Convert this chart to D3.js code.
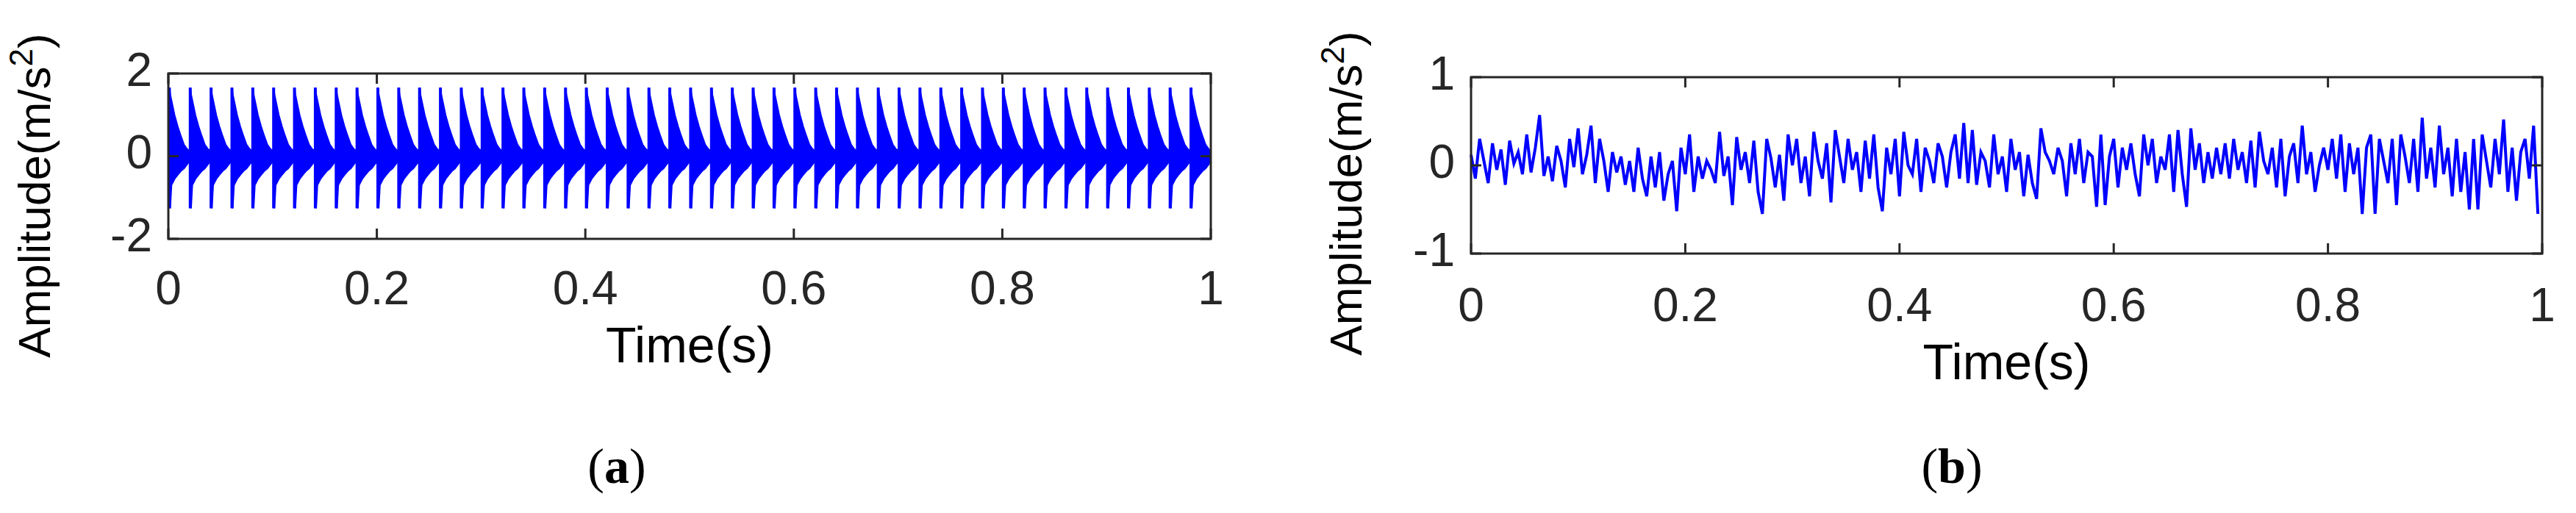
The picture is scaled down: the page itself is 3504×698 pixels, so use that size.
<!DOCTYPE html>
<html><head><meta charset="utf-8">
<script src="https://cdn.jsdelivr.net/npm/d3@7"></script>
<style>body{margin:0;background:#fff}svg{display:block}</style>
</head><body>
<svg id="c" width="3504" height="698"></svg>
<script>
// Panel (a): impulse train (fault signal)
const impulseTimes = [0.001,0.021,0.041,0.061,0.081,0.101,0.121,0.141,0.161,0.181,0.201,0.221,0.241,0.261,0.281,0.301,0.321,0.341,0.361,0.381,0.401,0.421,0.441,0.461,0.481,0.501,0.521,0.541,0.561,0.581,0.601,0.621,0.641,0.661,0.681,0.701,0.721,0.741,0.761,0.781,0.801,0.821,0.841,0.861,0.881,0.901,0.921,0.941,0.961,0.981];
const impulsePeriod = 0.02;
// envelope shape within one impulse (fraction of period, amplitude)
const envFrac  = [0, 0.04, 0.1, 0.25, 0.4, 0.55, 0.7, 0.85, 1.0];
const envUpper = [1.66, 1.5, 1.35, 0.99, 0.72, 0.49, 0.28, 0.17, 0.12];
const envLower = [-0.2, -1.26, -0.7, -0.55, -0.45, -0.36, -0.3, -0.2, -0.1];
const xTicksA = [0, 0.2, 0.4, 0.6, 0.8, 1];
const yTicksA = [-2, 0, 2];
// Panel (b): normal signal samples, dt = 0.004 s
const noiseDt = 0.004;
const noiseValues = [
0.12,-0.15,0.3,0.05,-0.2,0.25,-0.05,0.18,-0.22,0.28,0.02,0.15,-0.1,0.35,-0.08,0.2,0.57,-0.12,0.1,-0.18,0.22,0.05,-0.25,0.3,-0.02,
0.42,-0.1,0.12,0.45,-0.2,0.3,0.05,-0.3,0.15,-0.08,0.1,-0.22,0.05,-0.3,0.2,-0.15,-0.35,0.1,-0.25,0.15,-0.4,-0.1,0.05,-0.52,0.2,
-0.1,0.35,-0.3,0.1,-0.15,0.05,-0.05,-0.2,0.38,-0.12,0.1,-0.45,0.32,-0.05,0.15,-0.2,0.28,-0.3,-0.55,0.3,0.08,-0.25,0.12,-0.4,0.35,
0.0,0.3,-0.2,0.1,-0.35,0.38,0.05,-0.15,0.25,-0.42,0.4,0.1,-0.2,0.3,-0.05,0.15,-0.3,0.28,-0.15,0.35,-0.25,-0.52,0.2,-0.1,0.3,
-0.35,0.38,0.0,-0.1,0.3,-0.3,0.2,0.05,-0.2,0.25,0.1,-0.25,0.15,0.35,-0.15,0.48,-0.2,0.4,-0.22,0.15,0.05,-0.25,0.35,-0.1,0.1,
-0.3,0.3,-0.05,0.15,-0.35,0.12,-0.2,-0.38,0.42,0.15,0.05,-0.1,0.2,0.05,-0.35,0.25,-0.1,0.3,-0.2,0.15,0.1,-0.47,0.35,-0.45,0.1,
0.3,-0.25,0.2,-0.05,0.25,-0.1,-0.35,0.35,0.0,0.3,-0.2,0.1,-0.05,0.35,-0.3,0.4,-0.1,-0.47,0.42,-0.05,0.25,-0.2,0.15,-0.15,0.2,
-0.1,0.25,-0.15,0.3,-0.05,0.15,-0.2,0.28,-0.25,0.38,0.05,-0.1,0.2,-0.25,0.3,-0.35,0.1,0.25,-0.2,0.45,-0.1,0.15,-0.3,0.0,0.2,
-0.05,0.3,-0.15,0.35,-0.3,0.25,-0.1,0.2,-0.55,0.2,0.35,-0.55,0.3,0.05,-0.2,0.3,-0.45,0.35,0.1,-0.2,0.3,-0.3,0.54,-0.15,0.2,
-0.25,0.45,-0.1,0.2,-0.35,0.3,-0.3,0.15,-0.5,0.3,-0.5,0.35,0.05,-0.25,0.3,-0.1,0.52,-0.3,0.2,-0.4,0.15,0.3,-0.15,0.45,-0.55];
const xTicksB = [0, 0.2, 0.4, 0.6, 0.8, 1];
const yTicksB = [-1, 0, 1];

const svg = d3.select("#c");
const AX = "#262626", FONT = "'Liberation Sans', Arial, sans-serif";

function frame(g, x, y, xt, yt, tickFmt, xLabY, labX, labY) {
  const [x0, x1] = x.range(), [y1, y0] = y.range();
  const tl = 14;
  g.append("rect").attr("x", x0).attr("y", y0).attr("width", x1 - x0).attr("height", y1 - y0)
    .attr("fill", "none").attr("stroke", AX).attr("stroke-width", 3);
  xt.forEach(t => {
    g.append("line").attr("x1", x(t)).attr("x2", x(t)).attr("y1", y1).attr("y2", y1 - tl).attr("stroke", AX).attr("stroke-width", 3);
    g.append("line").attr("x1", x(t)).attr("x2", x(t)).attr("y1", y0).attr("y2", y0 + tl).attr("stroke", AX).attr("stroke-width", 3);
    g.append("text").attr("x", x(t)).attr("y", xLabY).attr("text-anchor", "middle").attr("dominant-baseline", "middle")
      .attr("font-size", 64).attr("font-family", FONT).attr("fill", AX).text(tickFmt(t));
  });
  yt.forEach(t => {
    g.append("line").attr("x1", x0).attr("x2", x0 + tl).attr("y1", y(t)).attr("y2", y(t)).attr("stroke", AX).attr("stroke-width", 3);
    g.append("line").attr("x1", x1).attr("x2", x1 - tl).attr("y1", y(t)).attr("y2", y(t)).attr("stroke", AX).attr("stroke-width", 3);
    g.append("text").attr("x", x0 - 22).attr("y", y(t)).attr("text-anchor", "end").attr("dominant-baseline", "middle")
      .attr("font-size", 64).attr("font-family", FONT).attr("fill", AX).text(t);
  });
  g.append("text").attr("x", (x0 + x1) / 2).attr("y", xLabY + 78).attr("text-anchor", "middle").attr("dominant-baseline", "middle")
    .attr("font-size", 68).attr("font-family", FONT).attr("fill", "#000").text("Time(s)");
  const yl = g.append("text").attr("transform", `translate(${labX},${labY}) rotate(-90)`).attr("text-anchor", "middle")
    .attr("font-size", 62).attr("font-family", FONT).attr("fill", "#000");
  yl.append("tspan").text("Amplitude(m/s");
  yl.append("tspan").attr("dy", -24).attr("font-size", 44).text("2");
  yl.append("tspan").attr("dy", 24).text(")");
}
const fmt = d => d === 0 ? "0" : d === 1 ? "1" : String(d);

// Panel (a)
const xa = d3.scaleLinear().domain([0, 1]).range([229, 1647]);
const ya = d3.scaleLinear().domain([-2, 2]).range([325, 100]);
const ga = svg.append("g");
const area = d3.area().x(d => d[0]).y0(d => d[2]).y1(d => d[1]);
impulseTimes.forEach(t0 => {
  const pts = envFrac.map((f, i) => {
    const t = Math.min(1, t0 + f * impulsePeriod);
    return [xa(t), ya(envUpper[i]), ya(envLower[i])];
  });
  ga.append("path").attr("d", area(pts)).attr("fill", "#0000ff").attr("stroke", "#0000ff").attr("stroke-width", 2);
  ga.append("line").attr("x1", xa(t0)).attr("x2", xa(t0)).attr("y1", ya(envUpper[0])).attr("y2", ya(envLower[1]))
    .attr("stroke", "#0000ff").attr("stroke-width", 4);
});
frame(ga, xa, ya, xTicksA, yTicksA, fmt, 397, 68, 266);

// Panel (b)
const xb = d3.scaleLinear().domain([0, 1]).range([2001, 3458]);
const yb = d3.scaleLinear().domain([-1, 1]).range([345, 105]);
const gb = svg.append("g");
gb.append("path").datum(noiseValues)
  .attr("d", d3.line().x((d, i) => xb(i * noiseDt)).y(d => yb(d)))
  .attr("fill", "none").attr("stroke", "#0000ff").attr("stroke-width", 4);
frame(gb, xb, yb, xTicksB, yTicksB, fmt, 420, 1852, 263);

// Captions
svg.append("text").attr("x", 839).attr("y", 657).attr("text-anchor", "middle").attr("font-size", 68)
  .attr("font-family", "'Liberation Serif', 'Times New Roman', serif").attr("fill", "#000")
  .html("(<tspan font-weight='bold'>a</tspan>)");
svg.append("text").attr("x", 2655).attr("y", 657).attr("text-anchor", "middle").attr("font-size", 68)
  .attr("font-family", "'Liberation Serif', 'Times New Roman', serif").attr("fill", "#000")
  .html("(<tspan font-weight='bold'>b</tspan>)");
</script>
</body></html>
